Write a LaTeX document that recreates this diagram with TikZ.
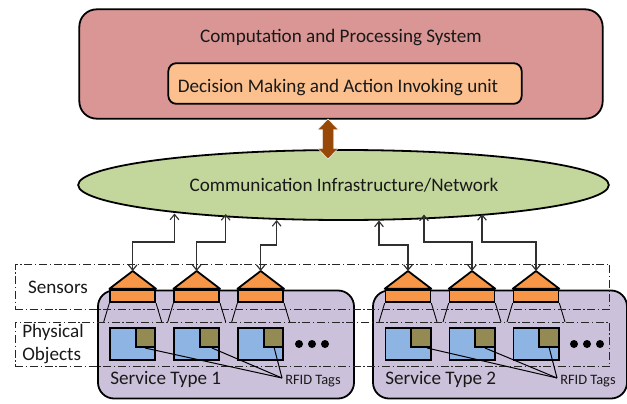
\documentclass[tikz,border=0pt]{standalone}
\usepackage{fontspec}
\setmainfont{Carlito}
\usetikzlibrary{arrows.meta,shapes.geometric,calc}
\definecolor{cred}{HTML}{D99694}
\definecolor{cpeach}{HTML}{FBC08E}
\definecolor{cgreen}{HTML}{C3D69B}
\definecolor{cpurple}{HTML}{CCC1DA}
\definecolor{corange}{HTML}{F79646}
\definecolor{cblue}{HTML}{8EB4E3}
\definecolor{colive}{HTML}{948A54}
\definecolor{cbrown}{HTML}{984807}
\definecolor{cline}{HTML}{303030}
\tikzset{
  x=0.75pt,y=-0.75pt,
  outl/.style={draw=black,line width=1.35pt},
  lbl/.style={font=\fontsize{14.35pt}{16pt}\selectfont,inner sep=0pt,text=black!90},
  small/.style={font=\fontsize{10.8pt}{12pt}\selectfont,inner sep=0pt,text=black!90},
  sbox/.style={outl,fill=corange,minimum width=33.7pt,minimum height=9.4pt,inner sep=0pt},
  roofs/.style={outl,fill=corange,line join=round},
  obj/.style={outl,fill=cblue,minimum width=33.9pt,minimum height=24pt,inner sep=0pt},
  tag/.style={outl,fill=colive,minimum width=14.6pt,minimum height=14.3pt,inner sep=0pt},
  group/.style={outl,fill=cpurple,rounded corners=12pt,minimum height=81pt,inner sep=0pt},
  band/.style={draw=black!85,line width=0.6pt,dash pattern=on 6pt off 2pt on 1pt off 2pt},
  link/.style={draw=cline,line width=0.85pt,{Straight Barb[length=4pt,width=6.5pt]}-{Straight Barb[length=4pt,width=6.5pt]}},
  lead/.style={draw=black,line width=0.75pt},
  flare/.style={draw=black,line width=0.65pt},
  dot/.style={circle,fill=black,minimum size=6pt,inner sep=0pt}
}
\begin{document}
\begin{tikzpicture}
\useasboundingbox (0,0) rectangle (627,403);
% top
\node[outl,fill=cred,rounded corners=13pt,minimum width=392.5pt,minimum height=82pt,inner sep=0pt] (sys) at (341,64) {};
\node[lbl] (systxt) at (341,37.5) {Computation and Processing System};
\node[outl,fill=cpeach,rounded corners=6pt,minimum width=265pt,minimum height=30.5pt,inner sep=0pt] (dec) at (345,83.5) {};
\node[lbl] (dectxt) at (338,87.5) {Decision Making and Action Invoking unit};
% network
\node[ellipse,outl,fill=cgreen,minimum width=398pt,minimum height=52.5pt,inner sep=0pt] (net) at (343.5,185) {};
\node[lbl] (nettxt) at (344,185.5) {Communication Infrastructure/Network};
% double arrow
\coordinate (da) at (328,139);
\fill[cbrown,draw=white,line width=0.3pt] ($(da)+(0,-20)$) -- ++(10,10.5) -- ++(-4.5,0) -- ++(0,19) -- ++(4.5,0) -- ++(-10,10.5) -- ++(-10,-10.5) -- ++(4.5,0) -- ++(0,-19) -- ++(-4.5,0) -- cycle;
% groups
\node[group,minimum width=192pt] (g1) at (226,344.5) {};
\node[group,minimum width=190.5pt] (g2) at (500,344.5) {};
% flares, houses, objects
\foreach \n/\cx in {1/132.7,2/196.7,3/260.7,4/408,5/472,6/536}{
  \node[sbox] (s\n) at (\cx,296) {};
  \coordinate (p\n) at (\cx,271);
  \draw[roofs] (s\n.north west) -- (p\n) -- (s\n.north east) -- cycle;
  \coordinate (fl\n) at (\cx-29,322);
  \coordinate (fr\n) at (\cx+29,322);
  \draw[flare] (s\n.south west) -- (fl\n);
  \draw[flare] (s\n.south east) -- (fr\n);
  \node[obj] (o\n) at (\cx,344) {};
  \node[tag,anchor=north east] (t\n) at (o\n.north east) {};
}
% bands
\node[band,minimum width=446pt,minimum height=33.8pt,inner sep=0pt] (bs) at (312.5,286.5) {};
\node[band,minimum width=446pt,minimum height=33.4pt,inner sep=0pt] (bp) at (312.5,344.3) {};
% side labels
\node[lbl] (sens) at (58,287) {Sensors};
\node[lbl,anchor=west] (phys) at (22,332) {Physical};
\node[lbl,anchor=west] (objs) at (22,355) {Objects};
% dots
\foreach \n/\x in {a/299,b/312,c/325,d/574,e/587,f/600}{\node[dot] (dot\n) at (\x,344) {};}
% group labels
\node[lbl,anchor=west] (st1) at (110,379) {Service Type 1};
\node[lbl,anchor=west] (st2) at (385,379) {Service Type 2};
\node[small,anchor=west] (rf1) at (285,381) {RFID Tags};
\node[small,anchor=west] (rf2) at (560,381) {RFID Tags};
% leaders
\coordinate (r1) at (282,378);
\coordinate (r2) at (557,378);
\draw[lead] (145,348) -- (r1);
\draw[lead] (212,348) -- (r1);
\draw[lead] (274,347) -- (r1);
\draw[lead] (427,348) -- (r2);
\draw[lead] (485,348) -- (r2);
\draw[lead] (549,347) -- (r2);
% connectors
\coordinate (e1) at (174.5,213.5);
\coordinate (e2) at (225.7,214);
\coordinate (e3) at (276.7,220);
\coordinate (e4) at (379,220.5);
\coordinate (e5) at (424,214.5);
\coordinate (e6) at (482,214);
\draw[link] (p1) -- ++(0,-29) -| (e1);
\draw[link] (p2) -- ++(0,-29) -| (e2);
\draw[link] (p3) -- ++(0,-26) -| (e3);
\draw[link] (p4) -- ++(0,-26) -| (e4);
\draw[link] (p5) -- ++(0,-29) -| (e5);
\draw[link] (p6) -- ++(0,-29) -| (e6);
\end{tikzpicture}
\end{document}
